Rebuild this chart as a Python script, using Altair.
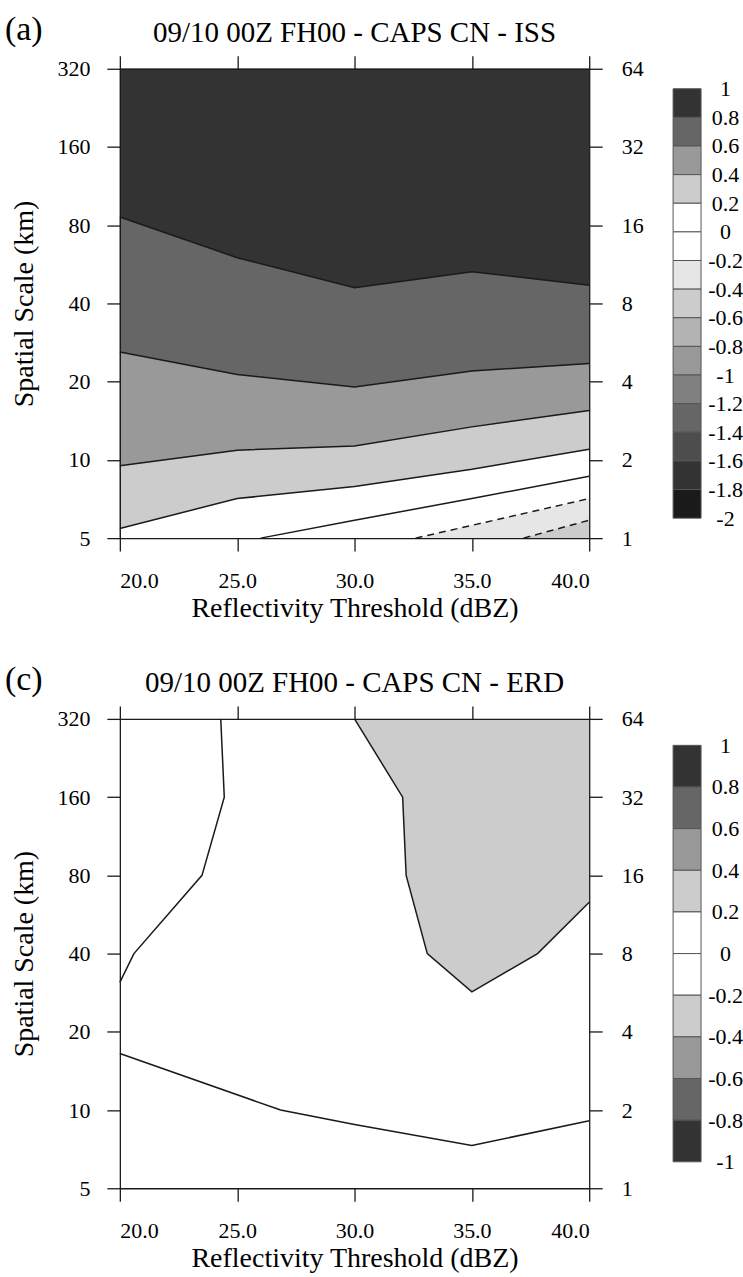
import altair as alt
import pandas as pd

FONT = "Liberation Serif"
INK = "#1a1a1a"

# ---------------- data ----------------
panel_tags = ["(a)", "(c)"]
panel_titles = ["09/10 00Z FH00 - CAPS CN - ISS", "09/10 00Z FH00 - CAPS CN - ERD"]
x_title = "Reflectivity Threshold (dBZ)"
y_title = "Spatial Scale (km)"

dbz_ticks = [20.0, 25.0, 30.0, 35.0, 40.0]
km_ticks = [5, 10, 20, 40, 80, 160, 320]

# ISS contour lines (panel a): km value of each contour at each threshold
dbz = [20.0, 25.0, 30.0, 35.0, 40.0]
iss_c08 = [86, 60, 46, 53, 47]
iss_c06 = [26, 21.3, 19.1, 22, 23.5]
iss_c04 = [9.5, 10.9, 11.3, 13.4, 15.5]
iss_c02 = [5.45, 7.1, 7.9, 9.2, 11.0]
iss_c00_x = [26.0, 30.0, 35.0, 40.0]
iss_c00 = [5, 5.86, 7.1, 8.65]
iss_cm02_x = [32.6, 35.0, 40.0]
iss_cm02 = [5, 5.6, 7.1]
iss_cm04_x = [37.2, 40.0]
iss_cm04 = [5, 5.86]

# ERD contour lines (panel c)
erd_left_x = [24.3, 24.45, 23.5, 20.6, 20.0]
erd_left_km = [320, 160, 80, 40, 31]
erd_patch_x = [30.0, 32.05, 32.2, 33.1, 35.0, 37.8, 40.0]
erd_patch_km = [320, 160, 80, 40, 28.5, 40, 63]
erd_low_x = [20.0, 26.85, 30.0, 35.0, 40.0]
erd_low_km = [16.5, 10, 8.8, 7.3, 9.1]

# colour bars (top to bottom)
cb_a_bounds = [1, 0.8, 0.6, 0.4, 0.2, 0, -0.2, -0.4, -0.6, -0.8, -1, -1.2, -1.4, -1.6, -1.8, -2]
cb_a_colors = ["#333333", "#666666", "#999999", "#cccccc", "#ffffff", "#ffffff", "#e6e6e6",
               "#cccccc", "#b3b3b3", "#999999", "#808080", "#666666", "#4d4d4d", "#333333", "#1a1a1a"]
cb_c_bounds = [1, 0.8, 0.6, 0.4, 0.2, 0, -0.2, -0.4, -0.6, -0.8, -1]
cb_c_colors = ["#333333", "#666666", "#999999", "#cccccc", "#ffffff", "#ffffff",
               "#cccccc", "#999999", "#666666", "#333333"]

W = 470
H = 470

xscale = alt.Scale(domain=[20, 40], nice=False, zero=False)
yscale = alt.Scale(type="log", base=2, domain=[5, 320], nice=False)

ax_common = dict(grid=False, domainColor=INK, tickColor=INK, domainWidth=1.3, tickWidth=1.3,
                 tickSize=13, labelFont=FONT, titleFont=FONT, labelFontSize=22, titleFontSize=28,
                 labelColor="black", titleColor="black", titleFontWeight="normal", zindex=1)

x_bottom = alt.Axis(values=dbz_ticks, format=".1f", title=x_title, labelPadding=19,
                    titlePadding=3, **ax_common)
x_top = alt.Axis(orient="top", values=dbz_ticks, labels=False, title=None, **ax_common)
y_left = alt.Axis(values=km_ticks, format="d", title=y_title, labelPadding=17,
                  titlePadding=18, **ax_common)
y_right = alt.Axis(orient="right", values=km_ticks, labelExpr="datum.value / 5", title=None,
                   labelPadding=19, **ax_common)


def fill_below(xs, kms, color, xaxis=None, yaxis=None):
    df = pd.DataFrame({"x": xs, "km": kms, "base": [5] * len(xs)})
    return alt.Chart(df).mark_area(color=color, opacity=1).encode(
        x=alt.X("x:Q", scale=xscale, axis=xaxis),
        y=alt.Y("km:Q", scale=yscale, axis=yaxis),
        y2="base:Q",
    )


def fill_above(xs, kms, color):
    df = pd.DataFrame({"x": xs, "km": kms, "top": [320] * len(xs)})
    return alt.Chart(df).mark_area(color=color, opacity=1).encode(
        x=alt.X("x:Q", scale=xscale, axis=None),
        y=alt.Y("km:Q", scale=yscale, axis=None),
        y2="top:Q",
    )


def contour_lines(lines, dashed=False, xaxis=None, yaxis=None):
    rows = []
    for name, xs, kms in lines:
        for i, (xv, kv) in enumerate(zip(xs, kms)):
            rows.append({"line": name, "idx": i, "x": xv, "km": kv})
    df = pd.DataFrame(rows)
    kw = dict(color=INK, strokeWidth=1.5)
    if dashed:
        kw["strokeDash"] = [7, 5]
    return alt.Chart(df).mark_line(**kw).encode(
        x=alt.X("x:Q", scale=xscale, axis=xaxis),
        y=alt.Y("km:Q", scale=yscale, axis=yaxis),
        detail="line:N",
        order="idx:Q",
    )


def texts(tag, title):
    t1 = alt.Chart(pd.DataFrame({"t": [title]})).mark_text(
        font=FONT, fontSize=29, align="center", baseline="alphabetic", color="black"
    ).encode(x=alt.value(W / 2), y=alt.value(-27), text="t:N")
    t2 = alt.Chart(pd.DataFrame({"t": [tag]})).mark_text(
        font=FONT, fontSize=34, align="left", baseline="alphabetic", color="black"
    ).encode(x=alt.value(-115), y=alt.value(-29), text="t:N")
    return [t1, t2]


def colorbar(bounds, colors, bar_h):
    rows = []
    for i, c in enumerate(colors):
        rows.append({"hi": bounds[i], "lo": bounds[i + 1], "col": c, "x0": 0, "x1": 1})
    df = pd.DataFrame(rows)
    lo, hi = min(bounds), max(bounds)
    pad = (H - bar_h) / 2 * (hi - lo) / bar_h
    return alt.Chart(df).mark_rect(stroke="#555555", strokeWidth=1).encode(
        x=alt.X("x0:Q", scale=alt.Scale(domain=[0, 1], nice=False, zero=False), axis=None),
        x2="x1:Q",
        y=alt.Y("lo:Q", scale=alt.Scale(domain=[lo - pad, hi + pad], nice=False, zero=False),
                axis=alt.Axis(orient="right", values=bounds,
                              labelExpr="datum.value < 0 ? '-' + format(-datum.value, '~g') : format(datum.value, '~g')",
                              domain=False, ticks=False, tickSize=0, labelPadding=24,
                              labelAlign="center", title=None, grid=False, labelFont=FONT,
                              labelFontSize=22, labelColor="black")),
        y2="hi:Q",
        color=alt.Color("col:N", scale=None),
    ).properties(width=28, height=H)


# ---------------- panel (a) ----------------
layers_a = [
    fill_below([20, 40], [320, 320], "#333333", xaxis=x_bottom, yaxis=y_left),
    fill_below(dbz, iss_c08, "#666666"),
    fill_below(dbz, iss_c06, "#999999"),
    fill_below(dbz, iss_c04, "#cccccc"),
    fill_below(dbz, iss_c02, "#ffffff"),
    fill_below(iss_cm02_x, iss_cm02, "#e6e6e6"),
    fill_below(iss_cm04_x, iss_cm04, "#cccccc"),
    contour_lines([("c08", dbz, iss_c08), ("c06", dbz, iss_c06), ("c04", dbz, iss_c04),
                   ("c02", dbz, iss_c02), ("c00", iss_c00_x, iss_c00)],
                  xaxis=x_top, yaxis=y_right),
    contour_lines([("cm02", iss_cm02_x, iss_cm02), ("cm04", iss_cm04_x, iss_cm04)], dashed=True),
] + texts(panel_tags[0], panel_titles[0])

plot_a = alt.layer(*layers_a).resolve_scale(x="shared", y="shared").resolve_axis(
    x="independent", y="independent").properties(width=W, height=H)

# ---------------- panel (c) ----------------
layers_c = [
    fill_below([20, 40], [320, 320], "#ffffff", xaxis=x_bottom, yaxis=y_left),
    fill_above(erd_patch_x, erd_patch_km, "#cccccc"),
    contour_lines([("left", erd_left_x, erd_left_km), ("patch", erd_patch_x, erd_patch_km),
                   ("low", erd_low_x, erd_low_km)], xaxis=x_top, yaxis=y_right),
] + texts(panel_tags[1], panel_titles[1])

plot_c = alt.layer(*layers_c).resolve_scale(x="shared", y="shared").resolve_axis(
    x="independent", y="independent").properties(width=W, height=H)

row_a = alt.hconcat(plot_a, colorbar(cb_a_bounds, cb_a_colors, 430), spacing=29)
row_c = alt.hconcat(plot_c, colorbar(cb_c_bounds, cb_c_colors, 417), spacing=29)

chart = alt.vconcat(row_a, row_c, spacing=41).properties(
    padding={"left": 5, "top": 12, "right": 0, "bottom": 2},
    background="white",
).configure(font=FONT).configure_view(stroke=None)

chart.save("out.html", embed_options={"renderer": "svg", "actions": False})
